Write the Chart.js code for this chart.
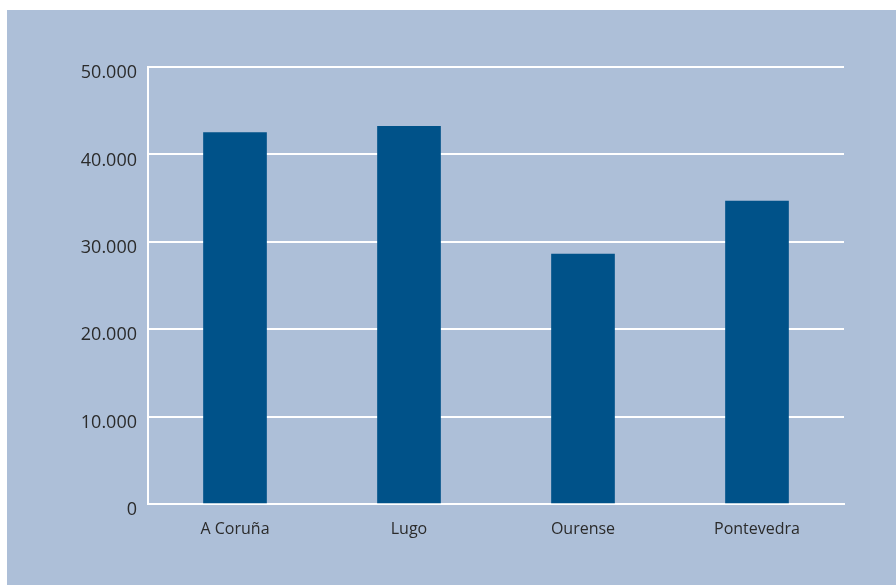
<!DOCTYPE html>
<html>
<head>
<meta charset="utf-8">
<script src="https://cdn.jsdelivr.net/npm/chart.js@4/dist/chart.umd.min.js"></script>
<style>
  html, body { margin: 0; padding: 0; background: #ffffff; }
  #wrap { width: 896px; height: 585px; position: relative; }
</style>
</head>
<body>
<div id="wrap"><canvas id="c" width="896" height="585"></canvas></div>
<script>
// Provinces of Galicia and their values
const categories = ['A Coruña', 'Lugo', 'Ourense', 'Pontevedra'];
const values = [42500, 43200, 28600, 34650];
const yTicks = [0, 10000, 20000, 30000, 40000, 50000];

const PANEL = '#adbfd8';
const BAR = '#005289';
const TEXT = '#2b2b2b';

// Light blue panel behind the whole chart
const panelBg = {
  id: 'panelBg',
  beforeDraw(chart) {
    const ctx = chart.ctx;
    ctx.save();
    ctx.fillStyle = PANEL;
    ctx.fillRect(7, 10, chart.width - 7, chart.height - 10);
    ctx.restore();
  }
};

const fmt = v => v === 0 ? '0' : (v / 1000).toFixed(0) + '.000';

new Chart(document.getElementById('c'), {
  type: 'bar',
  data: {
    labels: categories,
    datasets: [{
      data: values,
      backgroundColor: BAR,
      barThickness: 63,
      borderWidth: 0
    }]
  },
  options: {
    responsive: false,
    animation: false,
    devicePixelRatio: 1,
    layout: { padding: { left: 0, right: 52, top: 67, bottom: 0 } },
    plugins: {
      legend: { display: false },
      tooltip: { enabled: false }
    },
    scales: {
      x: {
        grid: { display: false, drawTicks: false },
        border: { display: true, color: '#ffffff', width: 2 },
        ticks: {
          color: TEXT,
          font: { family: 'Open Sans', size: 16 },
          padding: 16,
          maxRotation: 0
        },
        afterFit(scale) { scale.height = 81; }
      },
      y: {
        min: 0,
        max: 50000,
        afterBuildTicks(scale) { scale.ticks = yTicks.map(v => ({ value: v })); },
        grid: { color: '#ffffff', lineWidth: 2, drawTicks: false },
        border: { display: true, color: '#ffffff', width: 2 },
        ticks: {
          color: TEXT,
          font: { family: 'Open Sans', size: 18 },
          padding: 11,
          labelOffset: 6,
          callback: v => fmt(v)
        },
        afterFit(scale) { scale.width = 148; }
      }
    }
  },
  plugins: [panelBg]
});
</script>
</body>
</html>
